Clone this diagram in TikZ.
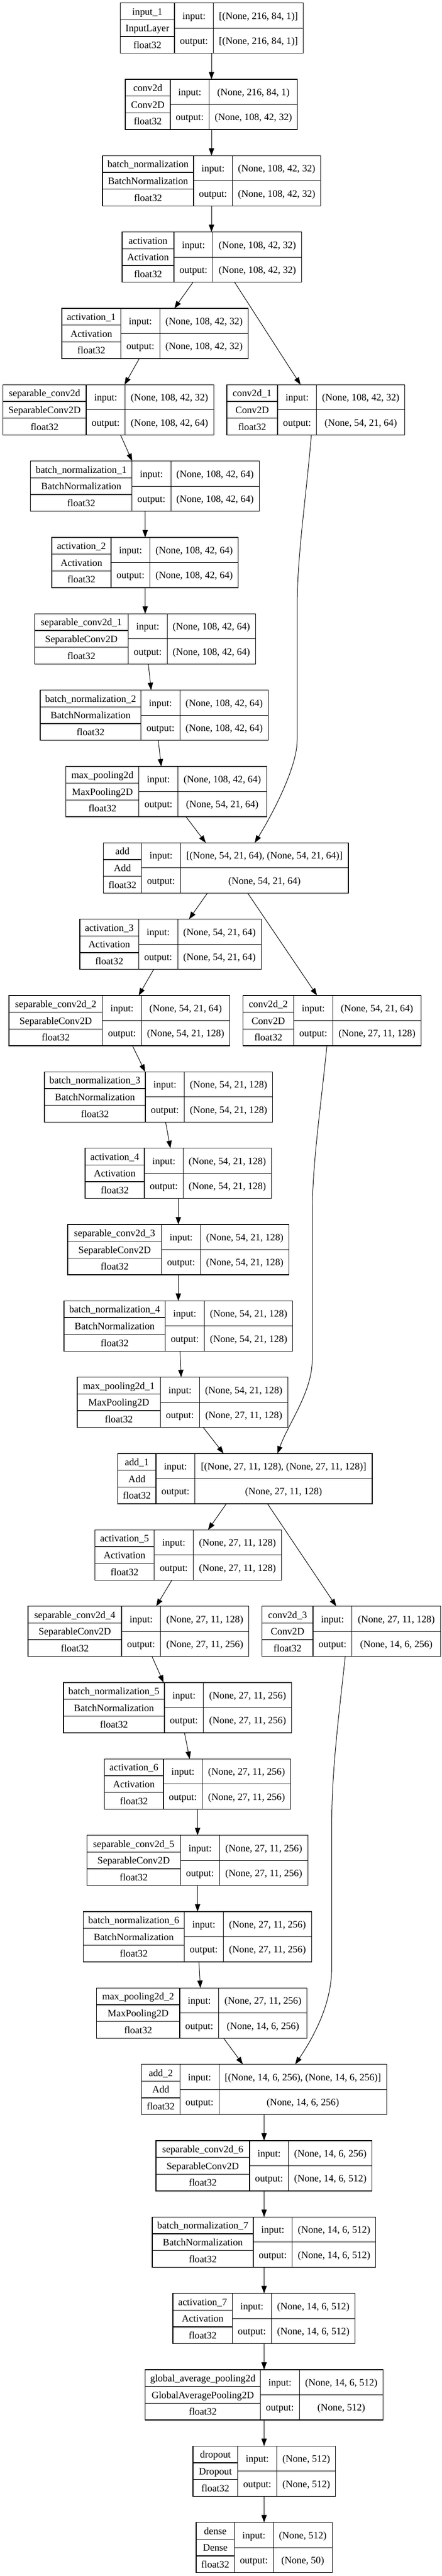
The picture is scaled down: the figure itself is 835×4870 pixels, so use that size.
\documentclass[tikz,border=0pt]{standalone}
\usepackage{fontspec}
\setmainfont{Liberation Serif}
\usetikzlibrary{arrows.meta}

\newcommand{\layerbox}[9]{%
  \pgfmathsetmacro{\yt}{5.7+#3*144.33}%
  \pgfmathsetmacro{\xa}{#2+#4}%
  \pgfmathsetmacro{\xb}{\xa+73.8}%
  \pgfmathsetmacro{\xc}{\xb+#5}%
  \pgfmathsetmacro{\boxw}{(#4+73.8+#5)*0.75}%
  \node[layer, minimum width=\boxw pt] (#1) at (#2,\yt) {};
  \draw[cellsep] (\xa,\yt) -- (\xa,{\yt+95});
  \draw[cellsep] (\xb,\yt) -- (\xb,{\yt+95});
  \draw[cellsep] (#2,{\yt+31.67}) -- (\xa,{\yt+31.67});
  \draw[cellsep] (#2,{\yt+63.33}) -- (\xa,{\yt+63.33});
  \draw[cellsep] (\xa,{\yt+47.5}) -- (\xc,{\yt+47.5});
  \node[cell] (#1-n) at ({#2+#4/2},{\yt+15.83}) {#6};
  \node[cell] (#1-c) at ({#2+#4/2},{\yt+47.5}) {#7};
  \node[cell] (#1-d) at ({#2+#4/2},{\yt+79.17}) {float32};
  \node[cell] (#1-il) at ({\xa+36.9},{\yt+23.75}) {input:};
  \node[cell] (#1-ol) at ({\xa+36.9},{\yt+71.25}) {output:};
  \node[cell] (#1-iv) at ({\xb+#5/2},{\yt+23.75}) {#8};
  \node[cell] (#1-ov) at ({\xb+#5/2},{\yt+71.25}) {#9};
}

\begin{document}
\begin{tikzpicture}[x=0.75pt, y=-0.75pt, >={Triangle[length=10.5pt,width=7.5pt]}]
\tikzstyle{layer}=[draw, rectangle, line width=0.8pt, inner sep=0, outer sep=0, anchor=north west, minimum height=71.25pt]
\tikzstyle{cellsep}=[line width=0.8pt]
\tikzstyle{cell}=[inner sep=0, font=\fontsize{14}{16}\selectfont, text height=13pt, text depth=3pt]
\tikzstyle{edge}=[->, line width=0.75pt]

\useasboundingbox (0,0) rectangle (835,4870);

\layerbox{in1}{227.5}{0}{102.5}{170}{input\_1}{InputLayer}{[(None, 216, 84, 1)]}{[(None, 216, 84, 1)]}
\layerbox{c2d}{237}{1}{85}{167}{conv2d}{Conv2D}{(None, 216, 84, 1)}{(None, 108, 42, 32)}
\layerbox{bn}{194}{2}{172}{167}{batch\_normalization}{BatchNormalization}{(None, 108, 42, 32)}{(None, 108, 42, 32)}
\layerbox{act}{231}{3}{98}{168}{activation}{Activation}{(None, 108, 42, 32)}{(None, 108, 42, 32)}
\layerbox{act1}{117}{4}{111.6}{167}{activation\_1}{Activation}{(None, 108, 42, 32)}{(None, 108, 42, 32)}
\layerbox{sep}{5.4}{5}{157.6}{167.4}{separable\_conv2d}{SeparableConv2D}{(None, 108, 42, 32)}{(None, 108, 42, 64)}
\layerbox{c2d1}{429}{5}{96}{167}{conv2d\_1}{Conv2D}{(None, 108, 42, 32)}{(None, 54, 21, 64)}
\layerbox{bn1}{57.8}{6}{191.7}{167}{batch\_normalization\_1}{BatchNormalization}{(None, 108, 42, 64)}{(None, 108, 42, 64)}
\layerbox{act2}{98}{7}{112}{167}{activation\_2}{Activation}{(None, 108, 42, 64)}{(None, 108, 42, 64)}
\layerbox{sep1}{65.3}{8}{177.2}{167}{separable\_conv2d\_1}{SeparableConv2D}{(None, 108, 42, 64)}{(None, 108, 42, 64)}
\layerbox{bn2}{76}{9}{190.6}{167}{batch\_normalization\_2}{BatchNormalization}{(None, 108, 42, 64)}{(None, 108, 42, 64)}
\layerbox{mp}{124.7}{10}{138.1}{167.6}{max\_pooling2d}{MaxPooling2D}{(None, 108, 42, 64)}{(None, 54, 21, 64)}
\layerbox{add}{195.4}{11}{72.3}{317.5}{add}{Add}{[(None, 54, 21, 64), (None, 54, 21, 64)]}{(None, 54, 21, 64)}
\layerbox{act3}{151}{12}{111.3}{158}{activation\_3}{Activation}{(None, 54, 21, 64)}{(None, 54, 21, 64)}
\layerbox{sep2}{17}{13}{176.8}{167}{separable\_conv2d\_2}{SeparableConv2D}{(None, 54, 21, 64)}{(None, 54, 21, 128)}
\layerbox{c2d2}{459.3}{13}{96.4}{167}{conv2d\_2}{Conv2D}{(None, 54, 21, 64)}{(None, 27, 11, 128)}
\layerbox{bn3}{84}{14}{191}{167}{batch\_normalization\_3}{BatchNormalization}{(None, 54, 21, 128)}{(None, 54, 21, 128)}
\layerbox{act4}{161}{15}{112}{166.4}{activation\_4}{Activation}{(None, 54, 21, 128)}{(None, 54, 21, 128)}
\layerbox{sep3}{128}{16}{177.7}{167}{separable\_conv2d\_3}{SeparableConv2D}{(None, 54, 21, 128)}{(None, 54, 21, 128)}
\layerbox{bn4}{121}{17}{191.6}{167.5}{batch\_normalization\_4}{BatchNormalization}{(None, 54, 21, 128)}{(None, 54, 21, 128)}
\layerbox{mp1}{146}{18}{157.5}{167.4}{max\_pooling2d\_1}{MaxPooling2D}{(None, 54, 21, 128)}{(None, 27, 11, 128)}
\layerbox{add1}{222.7}{19}{72.3}{335.2}{add\_1}{Add}{[(None, 27, 11, 128), (None, 27, 11, 128)]}{(None, 27, 11, 128)}
\layerbox{act5}{179.3}{20}{112.5}{167}{activation\_5}{Activation}{(None, 27, 11, 128)}{(None, 27, 11, 128)}
\layerbox{sep4}{53}{21}{177}{167}{separable\_conv2d\_4}{SeparableConv2D}{(None, 27, 11, 128)}{(None, 27, 11, 256)}
\layerbox{c2d3}{495.7}{21}{96.3}{167.5}{conv2d\_3}{Conv2D}{(None, 27, 11, 128)}{(None, 14, 6, 256)}
\layerbox{bn5}{120}{22}{191}{167}{batch\_normalization\_5}{BatchNormalization}{(None, 27, 11, 256)}{(None, 27, 11, 256)}
\layerbox{act6}{197.5}{23}{111.5}{167}{activation\_6}{Activation}{(None, 27, 11, 256)}{(None, 27, 11, 256)}
\layerbox{sep5}{164.3}{24}{177.2}{167}{separable\_conv2d\_5}{SeparableConv2D}{(None, 27, 11, 256)}{(None, 27, 11, 256)}
\layerbox{bn6}{157.4}{25}{191.1}{167}{batch\_normalization\_6}{BatchNormalization}{(None, 27, 11, 256)}{(None, 27, 11, 256)}
\layerbox{mp2}{182.5}{26}{157.5}{167}{max\_pooling2d\_2}{MaxPooling2D}{(None, 27, 11, 256)}{(None, 14, 6, 256)}
\layerbox{add2}{267.7}{27}{72.8}{317}{add\_2}{Add}{[(None, 14, 6, 256), (None, 14, 6, 256)]}{(None, 14, 6, 256)}
\layerbox{sep6}{295}{28}{177}{158}{separable\_conv2d\_6}{SeparableConv2D}{(None, 14, 6, 256)}{(None, 14, 6, 512)}
\layerbox{bn7}{288}{29}{191}{158}{batch\_normalization\_7}{BatchNormalization}{(None, 14, 6, 512)}{(None, 14, 6, 512)}
\layerbox{act7}{327}{30}{112.5}{158.5}{activation\_7}{Activation}{(None, 14, 6, 512)}{(None, 14, 6, 512)}
\layerbox{gap}{274.6}{31}{217.9}{158.4}{global\_average\_pooling2d}{GlobalAveragePooling2D}{(None, 14, 6, 512)}{(None, 512)}
\layerbox{drop}{365}{32}{84.7}{111.4}{dropout}{Dropout}{(None, 512)}{(None, 512)}
\layerbox{dense}{371}{33}{72.3}{111}{dense}{Dense}{(None, 512)}{(None, 50)}

% block 1
\draw[edge] (in1.south -| 400,0) -- (c2d.north -| 400,0);
\draw[edge] (c2d.south -| 400,0) -- (bn.north -| 400,0);
\draw[edge] (bn.south -| 400,0) -- (act.north -| 400,0);
\draw[edge] (act.south -| 365,0) -- (act1.north -| 329.8,0);
\draw[edge] (act.south -| 443.8,0) -- (c2d1.north -| 568.5,0);
\draw[edge] (act1.south -| 263.4,0) -- (sep.north -| 235.5,0);
\draw[edge] (sep.south -| 228,0) -- (bn1.north -| 250,0);
\draw[edge] (bn1.south -| 274.6,0) -- (act2.north -| 274.6,0);
\draw[edge] (act2.south -| 274.6,0) -- (sep1.north -| 274.6,0);
\draw[edge] (sep1.south -| 280.5,0) -- (bn2.north -| 285.9,0);
\draw[edge] (bn2.south -| 299.3,0) -- (mp.north -| 305,0);
\draw[edge] (mp.south -| 351.7,0) -- (add.north -| 389.2,0);
\draw[edge] (c2d1.south -| 588.9,0) .. controls (578,950) and (562,1050) .. (562,1150) -- (562,1400)
  .. controls (562,1450) and (516,1538) .. (add.north -| 481.8,0);

% block 2
\draw[edge] (add.south -| 392.4,0) -- (act3.north -| 357.6,0);
\draw[edge] (add.south -| 468.4,0) -- (c2d2.north -| 599.6,0);
\draw[edge] (act3.south -| 290.7,0) -- (sep2.north -| 262.3,0);
\draw[edge] (sep2.south -| 250.5,0) -- (bn3.north -| 274.6,0);
\draw[edge] (bn3.south -| 313.2,0) -- (act4.north -| 322.3,0);
\draw[edge] (act4.south -| 337.3,0) -- (sep3.north -| 337.3,0);
\draw[edge] (sep3.south -| 337.3,0) -- (bn4.north -| 337.3,0);
\draw[edge] (bn4.south -| 340.5,0) -- (mp1.north -| 342.6,0);
\draw[edge] (mp1.south -| 384.4,0) -- (add1.north -| 423,0);
\draw[edge] (c2d2.south -| 618.3,0) .. controls (606,2100) and (590.5,2200) .. (590.5,2300) -- (590.5,2571)
  .. controls (590.5,2631) and (546.8,2688.7) .. (add1.north -| 524.6,0);

% block 3
\draw[edge] (add1.south -| 428,0) -- (act5.north -| 393.5,0);
\draw[edge] (add1.south -| 506,0) -- (c2d3.north -| 636,0);
\draw[edge] (act5.south -| 325,0) -- (sep4.north -| 295.5,0);
\draw[edge] (sep4.south -| 287.5,0) -- (bn5.north -| 309.4,0);
\draw[edge] (bn5.south -| 349,0) -- (act6.north -| 358.7,0);
\draw[edge] (act6.south -| 373.7,0) -- (sep5.north -| 373.7,0);
\draw[edge] (sep5.south -| 373.7,0) -- (bn6.north -| 373.7,0);
\draw[edge] (bn6.south -| 376.3,0) -- (mp2.north -| 379,0);
\draw[edge] (mp2.south -| 423,0) -- (add2.north -| 459.3,0);
\draw[edge] (c2d3.south -| 653,0) .. controls (640,3250) and (627.4,3350) .. (627.4,3450) -- (627.4,3720)
  .. controls (627.4,3790) and (592,3852.7) .. (add2.north -| 558.4,0);

% head
\draw[edge] (add2.south -| 499.5,0) -- (sep6.north -| 499.5,0);
\draw[edge] (sep6.south -| 499.5,0) -- (bn7.north -| 499.5,0);
\draw[edge] (bn7.south -| 499.5,0) -- (act7.north -| 499.5,0);
\draw[edge] (act7.south -| 499.5,0) -- (gap.north -| 499.5,0);
\draw[edge] (gap.south -| 499.5,0) -- (drop.north -| 499.5,0);
\draw[edge] (drop.south -| 499.5,0) -- (dense.north -| 499.5,0);
\end{tikzpicture}
\end{document}
